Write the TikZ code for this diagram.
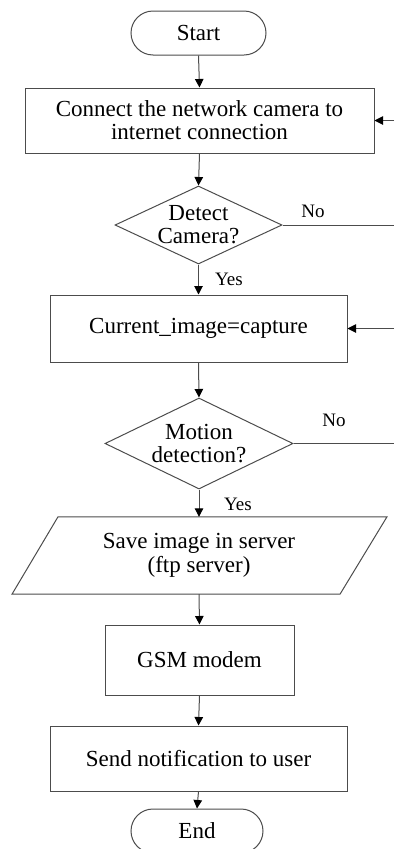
\documentclass[tikz,border=0pt]{standalone}
\usepackage{fontspec}
\setmainfont{Liberation Serif}
\usetikzlibrary{shapes.geometric,shapes.misc,arrows.meta,calc}
\begin{document}
\begin{tikzpicture}[x=1pt,y=-1pt,
  ln/.style={draw=black!70, line width=1pt},
  arr/.style={ln, -{Triangle[length=8.5pt,width=8.5pt,color=black]}},
  base/.style={ln, inner sep=0pt, font=\fontsize{23}{23}\selectfont, align=center},
  term/.style={base, rounded rectangle, minimum width=135pt, minimum height=44pt},
  proc/.style={base, rectangle, minimum height=66pt},
  dia/.style={ln, diamond, inner sep=0pt},
  txt/.style={inner sep=0pt, font=\fontsize{23}{23}\selectfont, align=center},
  lbl/.style={inner sep=0pt, font=\fontsize{19}{20}\selectfont}
]
\useasboundingbox (0,0) rectangle (394,849);

\node[term] (start) at (198.5,33) {Start};
\node[proc, minimum width=349pt, minimum height=65pt] (box1) at (199.5,120.5) {Connect the network camera to\\internet connection};
\node[dia, minimum width=167pt, minimum height=78pt] (d1) at (198.5,225) {};
\node[txt] (d1t) at (d1.center) {Detect\\Camera?};
\node[proc, minimum width=297pt, minimum height=67pt] (box2) at (198.5,328.5) {Current\_image=capture};
\node[dia, minimum width=188pt, minimum height=91pt] (d2) at (199,443.5) {};
\node[txt] (d2t) at (d2.center) {Motion\\detection?};
\node[txt, minimum width=200pt, minimum height=77pt] (para) at (199,555.5) {Save image in server\\[1pt](ftp server)};
\draw[ln] ($(para.north)+(-141,0)$) -- ($(para.north)+(188,0)$) -- ($(para.south)+(141,0)$) -- ($(para.south)+(-187,0)$) -- cycle;
\node[proc, minimum width=189pt, minimum height=70pt] (gsm) at (199.5,660) {GSM modem};
\node[proc, minimum width=297pt, minimum height=65pt] (send) at (198.5,758.5) {Send notification to user};
\node[term, minimum width=132pt] (end) at (197,831) {End};

\coordinate (r1) at (394,120.5);
\coordinate (r2) at (394,225);
\coordinate (r3) at (394,328.5);
\coordinate (r4) at (394,443.5);

\draw[arr] (start.south) -- (box1.north);
\draw[arr] (box1.south) -- (d1.north);
\draw[arr] (d1.south) -- (box2.north);
\draw[arr] (box2.south) -- (d2.north);
\draw[arr] (d2.south) -- (para.north);
\draw[arr] (para.south) -- (gsm.north);
\draw[arr] (gsm.south) -- (send.north);
\draw[arr] (send.south) -- (end.north);

\draw[ln] (d1.east) -- (r2);
\draw[ln] (d2.east) -- (r4);
\draw[arr] (r1) -- (box1.east);
\draw[arr] (r3) -- (box2.east);

\node[lbl] (no1) at (313,211) {No};
\node[lbl] (yes1) at (229,279) {Yes};
\node[lbl] (no2) at (334,420) {No};
\node[lbl] (yes2) at (238,504) {Yes};
\end{tikzpicture}
\end{document}
